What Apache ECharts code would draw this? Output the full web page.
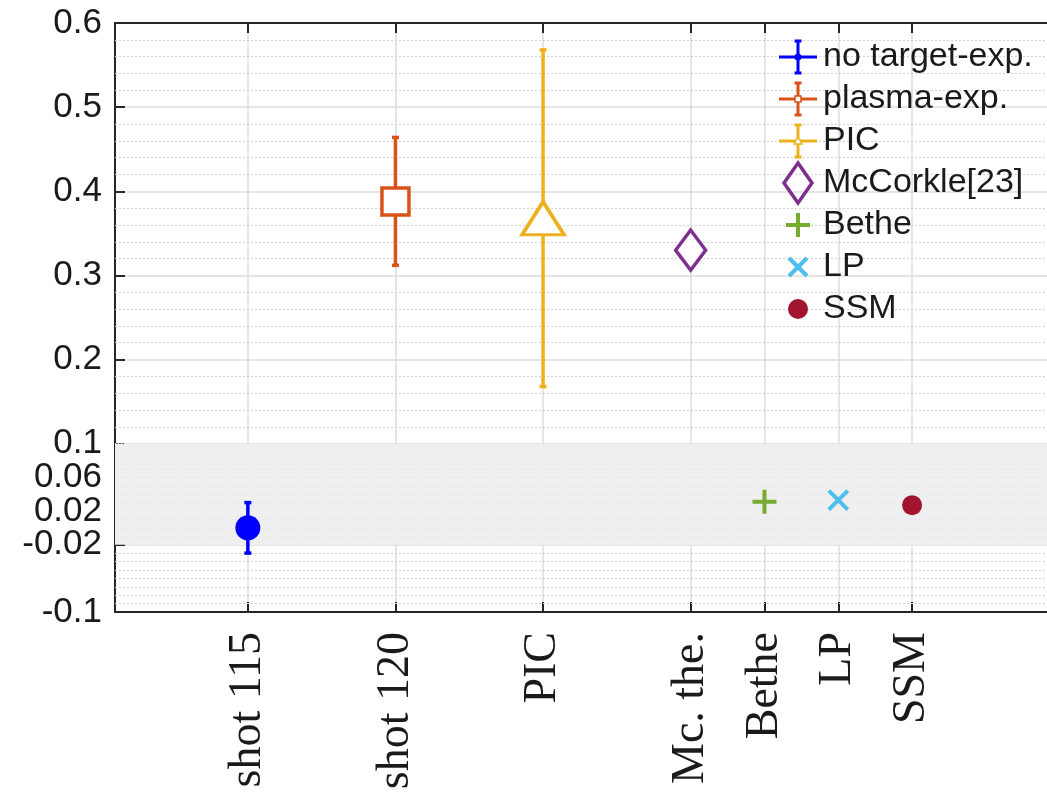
<!DOCTYPE html>
<html>
<head>
<meta charset="utf-8">
<script src="https://cdn.jsdelivr.net/npm/echarts@6/dist/echarts.min.js"></script>
<style>
  html, body { margin: 0; padding: 0; background: #ffffff; }
  #chart { width: 1047px; height: 795px; }
</style>
</head>
<body>
<div id="chart"></div>
<script>
// ---- data ----
const categories = ['shot 115', 'shot 120', 'PIC', 'Mc. the.', 'Bethe', 'LP', 'SSM'];
const positions  = [1, 2, 3, 4, 4.5, 5, 5.5];
const seriesNames = ['no target-exp.', 'plasma-exp.', 'PIC', 'McCorkle[23]', 'Bethe', 'LP', 'SSM'];
const values = [0.0, 0.388, 0.368, 0.330, 0.031, 0.033, 0.027];
const errors = [0.03, 0.076, 0.2, null, null, null, null];
const yTicks = [-0.1, -0.02, 0.02, 0.06, 0.1, 0.2, 0.3, 0.4, 0.5, 0.6];
const yTickLabels = ['-0.1', '-0.02', '0.02', '0.06', '0.1', '0.2', '0.3', '0.4', '0.5', '0.6'];

// ---- styling ----
const colors = ['#0000ff', '#d95319', '#edb120', '#7e2f8e', '#77ac30', '#4dbeee', '#a2142f'];
const AXIS = '#262626';
const PLUS = 'path://M0,5L10,5M5,0L5,10';
const CROSS = 'path://M0,0L10,10M10,0L0,10';
const markerStyles = [
  { symbol: 'circle',   size: 25,       fill: colors[0], border: colors[0], bw: 0 },
  { symbol: 'rect',     size: 27,       fill: '#ffffff', border: colors[1], bw: 3.5 },
  { symbol: 'triangle', size: [42, 33], fill: '#ffffff', border: colors[2], bw: 3.5 },
  { symbol: 'diamond',  size: [30, 40], fill: '#ffffff', border: colors[3], bw: 3.5 },
  { symbol: PLUS,       size: 24,       fill: 'transparent', border: colors[4], bw: 4 },
  { symbol: CROSS,      size: 19,       fill: 'transparent', border: colors[5], bw: 4 },
  { symbol: 'circle',   size: 20,       fill: colors[6], border: colors[6], bw: 0 }
];

const X_MIN = 0.1, X_MAX = 6.414;

// minor gridlines: 0.02 steps above 0.1, 0.01 steps below -0.02, fine mesh in between
const minorUpper = [], minorLower = [], minorBand = [];
for (let k = 6; k <= 29; k++) { const v = +(k * 0.02).toFixed(3); if (Math.abs(v * 10 - Math.round(v * 10)) > 1e-6) minorUpper.push(v); }
for (let k = -9; k <= -3; k++) minorLower.push(+(k * 0.01).toFixed(3));
for (let k = -3; k <= 19; k++) { const v = +(k * 0.005).toFixed(4); if (yTicks.indexOf(v) < 0) minorBand.push(v); }

function errorRenderer(color) {
  return function (params, api) {
    const x = api.value(0), y = api.value(1), e = api.value(2);
    const top = api.coord([x, y + e]);
    const bot = api.coord([x, y - e]);
    const cap = 3.5;
    const style = { stroke: color, lineWidth: 3.5 };
    return {
      type: 'group',
      children: [
        { type: 'line', shape: { x1: top[0], y1: top[1], x2: bot[0], y2: bot[1] }, style: style },
        { type: 'line', shape: { x1: top[0] - cap, y1: top[1], x2: top[0] + cap, y2: top[1] }, style: style },
        { type: 'line', shape: { x1: bot[0] - cap, y1: bot[1], x2: bot[0] + cap, y2: bot[1] }, style: style }
      ]
    };
  };
}

const series = [];

// background grid helper: shaded band and dotted minor lines
series.push({
  type: 'line',
  data: [],
  silent: true,
  z: 1,
  markArea: {
    silent: true,
    itemStyle: { color: '#efefef' },
    data: [[{ yAxis: -0.02 }, { yAxis: 0.1 }]]
  },
  markLine: {
    silent: true,
    symbol: 'none',
    label: { show: false },
    animation: false,
    data: []
      .concat(minorUpper.map(v => ({ yAxis: v, lineStyle: { color: '#d2d2d2', type: [2, 2], width: 1 } })))
      .concat(minorLower.map(v => ({ yAxis: v, lineStyle: { color: '#d2d2d2', type: [2, 2], width: 1 } })))
      .concat(minorBand.map(v => ({ yAxis: v, lineStyle: { color: '#e0e0e0', type: [1, 2], width: 1 } })))
  }
});

for (let i = 0; i < seriesNames.length; i++) {
  if (errors[i] != null) {
    series.push({
      name: seriesNames[i],
      type: 'custom',
      z: 5,
      renderItem: errorRenderer(colors[i]),
      encode: { x: 0, y: 1 },
      data: [[positions[i], values[i], errors[i]]],
      animation: false
    });
  }
  const m = markerStyles[i];
  series.push({
    name: seriesNames[i],
    type: 'scatter',
    z: 6,
    symbol: m.symbol,
    symbolSize: m.size,
    itemStyle: { color: m.fill, borderColor: m.border, borderWidth: m.bw, opacity: 1 },
    data: [[positions[i], values[i]]],
    animation: false
  });
}

// ---- legend drawn as graphic elements ----
const LEG_ICON_X = 798, LEG_TOP = 57, LEG_GAP = 42, LEG_TEXT_X = 823;
const legendChildren = [];
seriesNames.forEach(function (name, i) {
  const cy = LEG_TOP + i * LEG_GAP;
  const c = colors[i];
  const cx = LEG_ICON_X;
  if (i <= 2) {
    const st = { stroke: c, lineWidth: 3 };
    legendChildren.push({ type: 'line', shape: { x1: cx - 19, y1: cy, x2: cx + 19, y2: cy }, style: st });
    legendChildren.push({ type: 'line', shape: { x1: cx, y1: cy - 16, x2: cx, y2: cy + 16 }, style: st });
    legendChildren.push({ type: 'line', shape: { x1: cx - 3.5, y1: cy - 16, x2: cx + 3.5, y2: cy - 16 }, style: st });
    legendChildren.push({ type: 'line', shape: { x1: cx - 3.5, y1: cy + 16, x2: cx + 3.5, y2: cy + 16 }, style: st });
    if (i === 0) legendChildren.push({ type: 'circle', shape: { cx: cx, cy: cy, r: 3.5 }, style: { fill: c } });
    if (i === 1) legendChildren.push({ type: 'rect', shape: { x: cx - 3, y: cy - 3, width: 6, height: 6 }, style: { fill: '#fff', stroke: c, lineWidth: 1.5 } });
    if (i === 2) legendChildren.push({ type: 'polygon', shape: { points: [[cx, cy - 4], [cx + 4, cy + 3], [cx - 4, cy + 3]] }, style: { fill: '#fff', stroke: c, lineWidth: 1.5 } });
  } else if (i === 3) {
    legendChildren.push({ type: 'polygon', shape: { points: [[cx, cy - 20], [cx + 14, cy], [cx, cy + 20], [cx - 14, cy]] }, style: { fill: 'none', stroke: c, lineWidth: 3.5 } });
  } else if (i === 4) {
    const st = { stroke: c, lineWidth: 4 };
    legendChildren.push({ type: 'line', shape: { x1: cx - 12, y1: cy, x2: cx + 12, y2: cy }, style: st });
    legendChildren.push({ type: 'line', shape: { x1: cx, y1: cy - 12, x2: cx, y2: cy + 12 }, style: st });
  } else if (i === 5) {
    const st = { stroke: c, lineWidth: 4 };
    legendChildren.push({ type: 'line', shape: { x1: cx - 9, y1: cy - 9, x2: cx + 9, y2: cy + 9 }, style: st });
    legendChildren.push({ type: 'line', shape: { x1: cx - 9, y1: cy + 9, x2: cx + 9, y2: cy - 9 }, style: st });
  } else {
    legendChildren.push({ type: 'circle', shape: { cx: cx, cy: cy, r: 10 }, style: { fill: c } });
  }
  legendChildren.push({
    type: 'text',
    style: { text: name, x: LEG_TEXT_X, y: cy, fill: '#1a1a1a', fontSize: 34, fontFamily: 'Liberation Sans', verticalAlign: 'middle', align: 'left' }
  });
});
legendChildren.forEach(function (el) { el.z = 100; el.zlevel = 1; el.silent = true; });

const chart = echarts.init(document.getElementById('chart'), null, { renderer: 'canvas' });
chart.setOption({
  backgroundColor: '#ffffff',
  animation: false,
  grid: { left: 115, right: 0, top: 23, bottom: 183, containLabel: false },
  xAxis: [
    {
      type: 'value', min: X_MIN, max: X_MAX, position: 'bottom',
      axisLine: { show: true, onZero: false, lineStyle: { color: AXIS, width: 2 } },
      axisTick: { show: true, inside: true, length: 10, customValues: positions, lineStyle: { color: AXIS, width: 2 } },
      axisLabel: {
        show: true, customValues: positions, rotate: 90, margin: 20,
        fontFamily: 'Liberation Serif', fontSize: 46, color: '#1a1a1a',
        formatter: function (v) { const k = positions.findIndex(p => Math.abs(p - v) < 1e-6); return k >= 0 ? categories[k] : ''; }
      },
      splitLine: { show: true, lineStyle: { color: '#dcdcdc', width: 1.5 } },
      minorTick: { show: false }
    },
    {
      type: 'value', min: X_MIN, max: X_MAX, position: 'top',
      axisLine: { show: true, onZero: false, lineStyle: { color: AXIS, width: 2 } },
      axisTick: { show: true, inside: true, length: 10, customValues: positions, lineStyle: { color: AXIS, width: 2 } },
      axisLabel: { show: false },
      splitLine: { show: false }
    }
  ],
  yAxis: [
    {
      type: 'value', min: -0.1, max: 0.6, position: 'left',
      axisLine: { show: true, onZero: false, lineStyle: { color: AXIS, width: 2 } },
      axisTick: { show: true, inside: true, length: 10, customValues: yTicks, lineStyle: { color: AXIS, width: 2 } },
      axisLabel: {
        show: true, customValues: yTicks, margin: 13,
        fontFamily: 'Liberation Sans', fontSize: 35, color: '#1a1a1a',
        formatter: function (v) { const k = yTicks.findIndex(t => Math.abs(t - v) < 1e-9); return k >= 0 ? yTickLabels[k] : ''; }
      },
      splitLine: { show: true, lineStyle: { color: '#dcdcdc', width: 1.5 } }
    }
  ],
  series: series,
  graphic: [{ type: 'group', z: 100, zlevel: 1, silent: true, children: legendChildren }]
});
</script>
</body>
</html>
